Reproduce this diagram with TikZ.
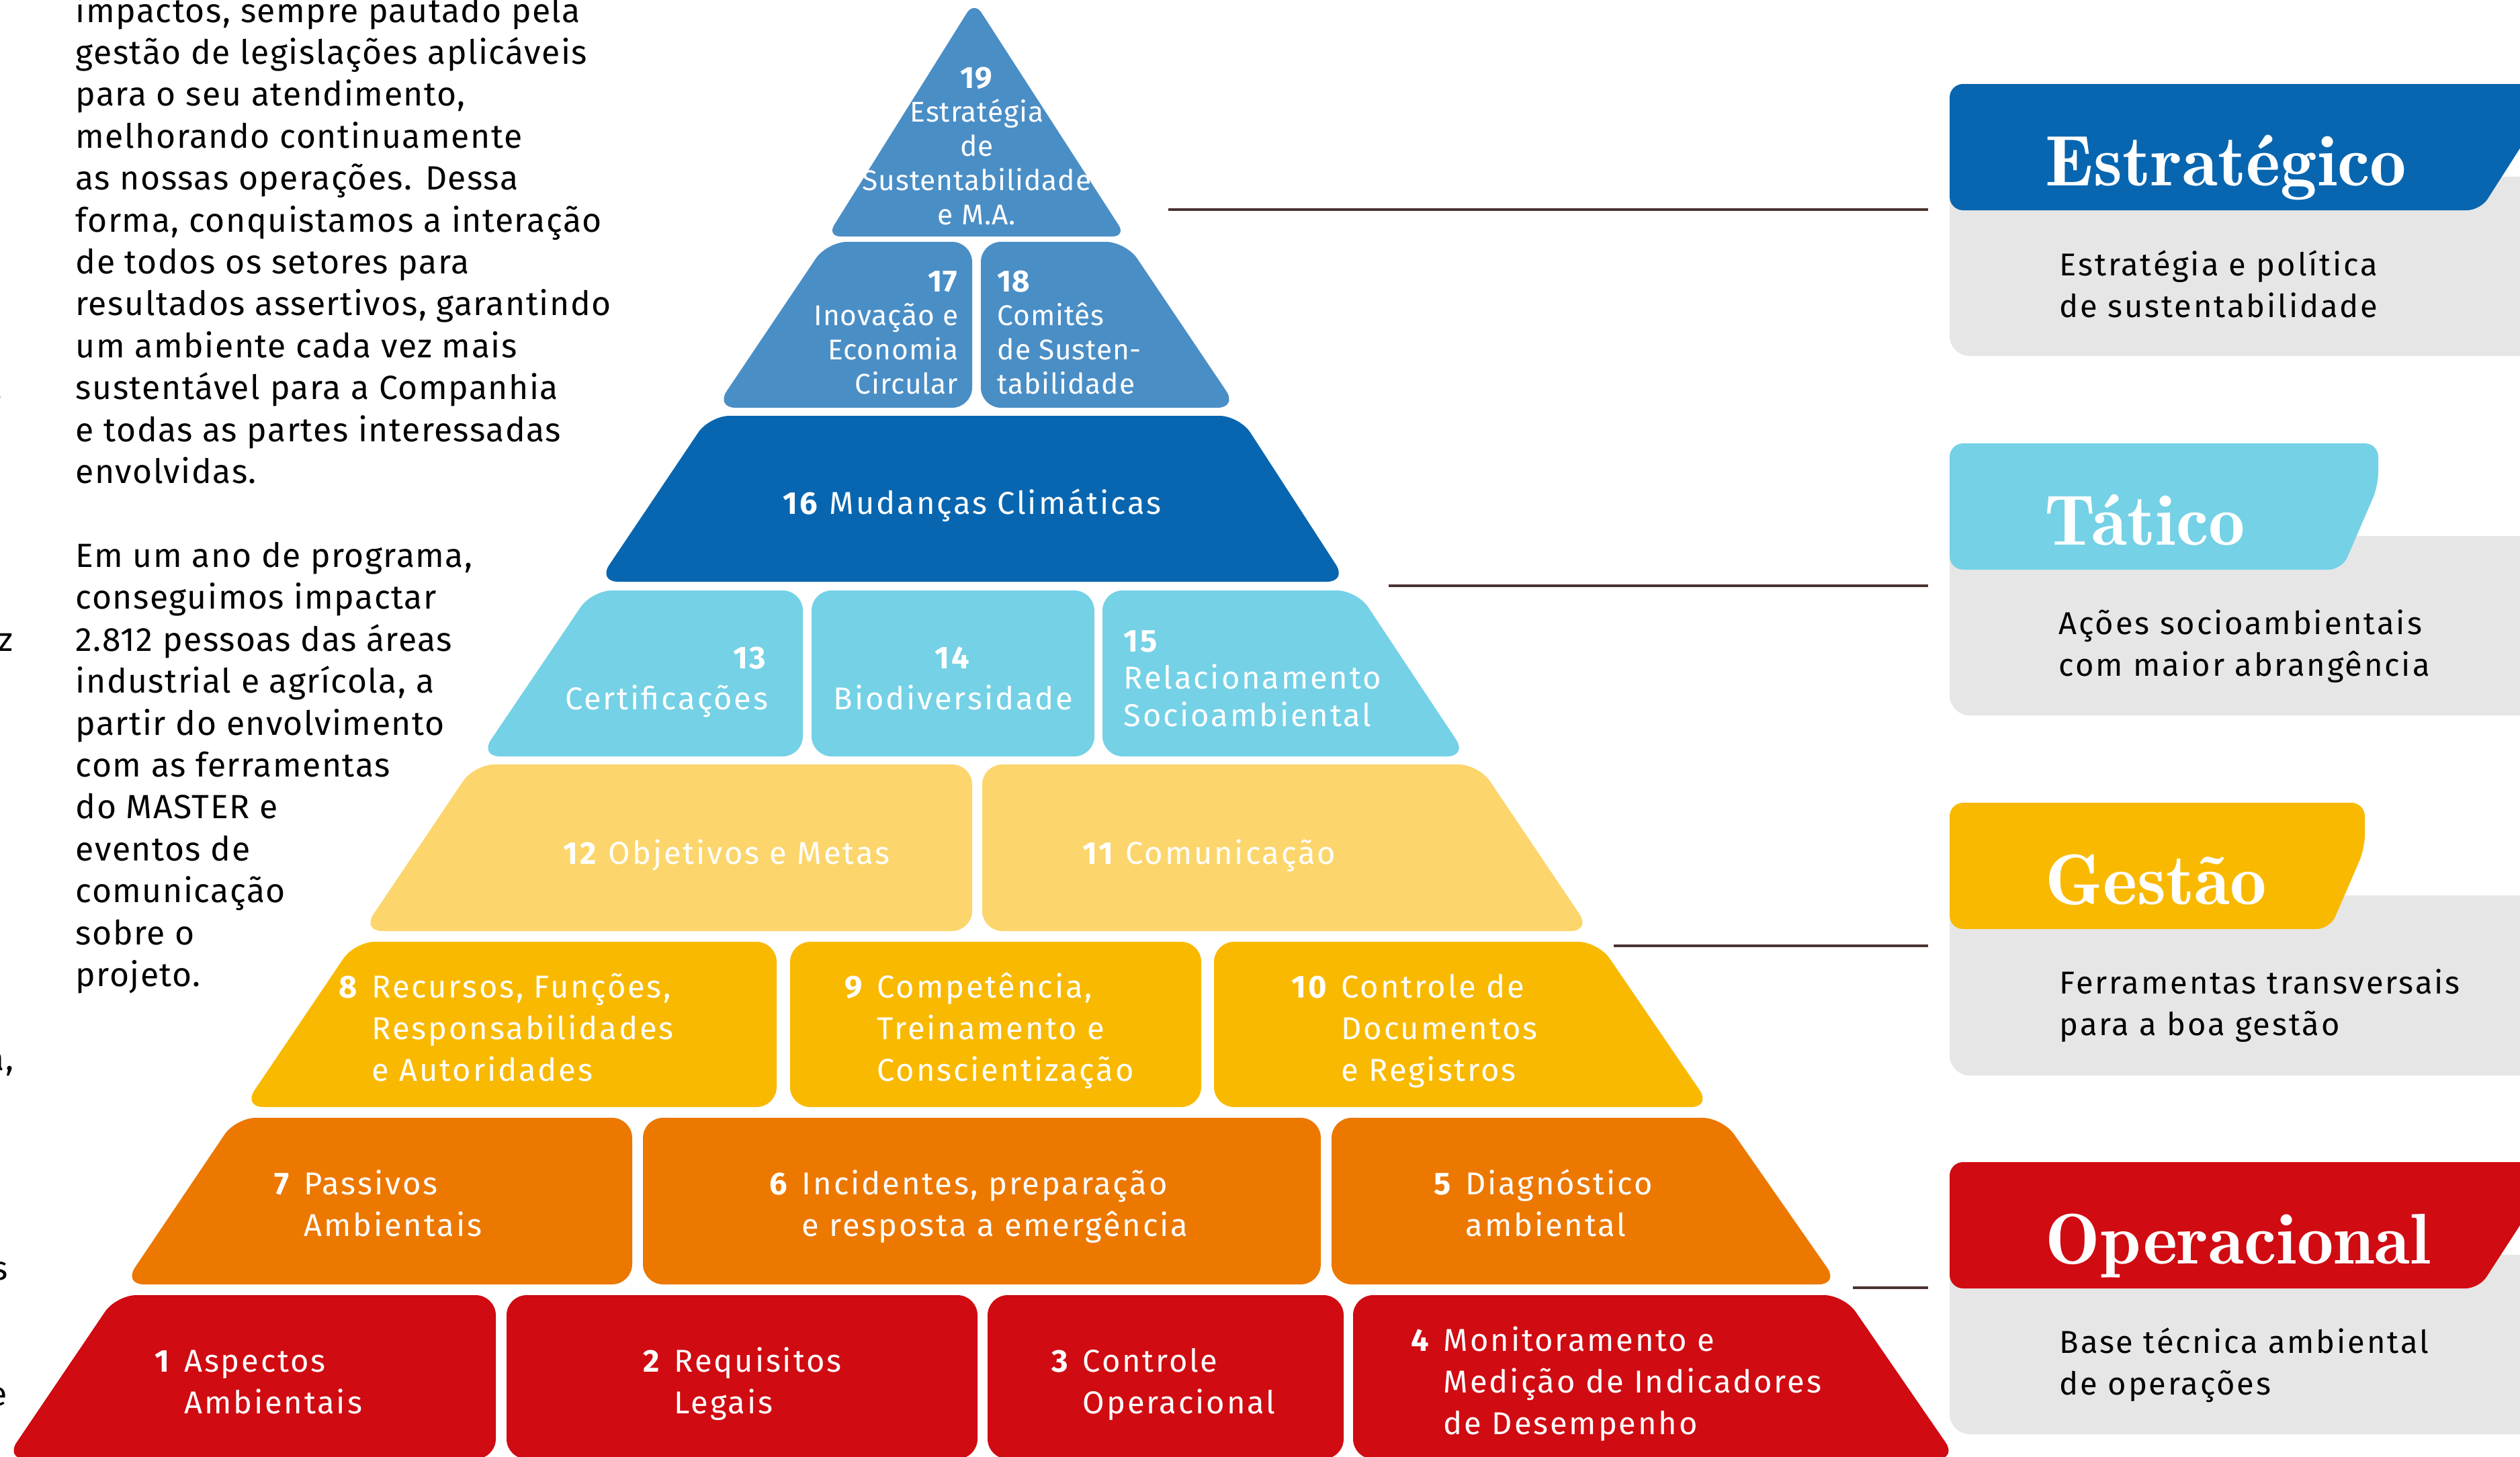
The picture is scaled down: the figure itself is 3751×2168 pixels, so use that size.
\documentclass[tikz,border=0pt]{standalone}
\usepackage{fontspec}
\newfontfamily\bodyfont[LetterSpace=3]{Fira Sans}
\newfontfamily\labfont[LetterSpace=6]{Fira Sans}
\newfontfamily\labsmallfont[LetterSpace=2]{Fira Sans}
\newfontfamily\descfont[LetterSpace=6]{Fira Sans}
\newfontfamily\headfont[FakeStretch=1.02]{lmromandemi10-regular.otf}
\definecolor{cBlueM}{HTML}{4A8EC6}
\definecolor{cBlueD}{HTML}{0866B0}
\definecolor{cCyan}{HTML}{74D1E6}
\definecolor{cYelL}{HTML}{FCD66C}
\definecolor{cAmber}{HTML}{F9B900}
\definecolor{cOrange}{HTML}{EC7800}
\definecolor{cRed}{HTML}{D00B12}
\definecolor{cGrey}{HTML}{E6E6E6}
\definecolor{cLine}{HTML}{4B3331}
\newcommand\numlab[2]{\textbf{#1}\hspace{0.4em}\begin{tabular}[t]{@{}l@{}}#2\end{tabular}}
\tikzset{
  pbox/.style={rounded corners=3mm},
  lab/.style={text=white, inner sep=0pt, font={\labfont\fontsize{13.4}{17.64}\selectfont}},
  labsmall/.style={text=white, inner sep=0pt, font={\labsmallfont\fontsize{12.1}{14.5}\selectfont}},
  labmid/.style={text=white, inner sep=0pt, font={\labfont\fontsize{13.4}{17.36}\selectfont}},
  labtight/.style={text=white, inner sep=0pt, font={\labfont\fontsize{13.4}{15.8}\selectfont}},
  body/.style={text=black, inner sep=0pt, font={\bodyfont\fontsize{14.2}{17.76}\selectfont}},
  head/.style={text=white, inner sep=0pt, anchor=base west, font={\headfont\fontsize{30.4}{36}\selectfont}},
  desc/.style={text=black, inner sep=0pt, anchor=base west, font={\descfont\fontsize{13.4}{17.9}\selectfont}},
  conn/.style={draw=cLine, line width=0.35mm},
}
\begin{document}
\begin{tikzpicture}[x=0.1mm,y=-0.1mm]
\useasboundingbox (0,0) rectangle (3751,2168);
\clip (0,0) rectangle (3751,2168);
\fill[white] (0,0) rectangle (3751,2168);

% ---------- pyramid ----------
\fill[cBlueM, rounded corners=2mm] (1450,2) -- (1676,352) -- (1231,352) -- cycle;
\fill[cBlueM, pbox] (1231,360) -- (1447,360) -- (1447,607) -- (1065,607) -- cycle;
\fill[cBlueM, pbox] (1460,360) -- (1676,360) -- (1842,607) -- (1460,607) -- cycle;
\fill[cBlueD, pbox] (1056,619) -- (1845,619) -- (2005,866) -- (890,866) -- cycle;
\fill[cCyan, pbox] (881,879) -- (1195,879) -- (1195,1126) -- (714,1126) -- cycle;
\fill[cCyan, pbox] (1208,879) -- (1629,879) -- (1629,1126) -- (1208,1126) -- cycle;
\fill[cCyan, pbox] (1641,879) -- (2020,879) -- (2184,1126) -- (1641,1126) -- cycle;
\fill[cYelL, pbox] (706,1138) -- (1447,1138) -- (1447,1386) -- (539,1386) -- cycle;
\fill[cYelL, pbox] (1462,1138) -- (2201,1138) -- (2368,1386) -- (1462,1386) -- cycle;
\fill[cAmber, pbox] (528,1402) -- (1156,1402) -- (1156,1648) -- (362,1648) -- cycle;
\fill[cAmber, pbox] (1176,1402) -- (1788,1402) -- (1788,1648) -- (1176,1648) -- cycle;
\fill[cAmber, pbox] (1807,1402) -- (2379,1402) -- (2547,1648) -- (1807,1648) -- cycle;
\fill[cOrange, pbox] (351,1664) -- (941,1664) -- (941,1912) -- (184,1912) -- cycle;
\fill[cOrange, pbox] (957,1664) -- (1966,1664) -- (1966,1912) -- (957,1912) -- cycle;
\fill[cOrange, pbox] (1982,1664) -- (2564,1664) -- (2737,1912) -- (1982,1912) -- cycle;
\fill[cRed, pbox] (173,1928) -- (738,1928) -- (738,2172) -- (8,2172) -- cycle;
\fill[cRed, pbox] (754,1928) -- (1455,1928) -- (1455,2172) -- (754,2172) -- cycle;
\fill[cRed, pbox] (1470,1928) -- (2000,1928) -- (2000,2172) -- (1470,2172) -- cycle;
\fill[cRed, pbox] (2014,1928) -- (2745,1928) -- (2913,2172) -- (2014,2172) -- cycle;

% ---------- pyramid labels ----------
\node[labsmall, anchor=base] (t19) at (1454,131) {\begin{tabular}[t]{@{}c@{}}\textbf{\fontsize{13}{14.5}\selectfont 19}\\Estratégia\\de\\Sustentabilidade\\e M.A.\end{tabular}};
\node[labsmall, anchor=base east] (t17) at (1427,434) {\begin{tabular}[t]{@{}r@{}}\textbf{\fontsize{13}{14.5}\selectfont 17}\\Inovação e\\Economia\\Circular\end{tabular}};
\node[labsmall, anchor=base west] (t18) at (1484,434) {\begin{tabular}[t]{@{}l@{}}\textbf{\fontsize{13}{14.5}\selectfont 18}\\Comitês\\de Susten-\\tabilidade\end{tabular}};
\node[lab, anchor=base] (t16) at (1447,765) {\textbf{16} Mudanças Climáticas};
\node[labmid, anchor=base east] (t13) at (1144,995) {\begin{tabular}[t]{@{}r@{}}\textbf{13}\\Certificações\end{tabular}};
\node[labmid, anchor=base] (t14) at (1419,995) {\begin{tabular}[t]{@{}c@{}}\textbf{14}\\Biodiversidade\end{tabular}};
\node[labtight, anchor=base west] (t15) at (1672,970) {\begin{tabular}[t]{@{}l@{}}\textbf{15}\\Relacionamento\\Socioambiental\end{tabular}};
\node[lab, anchor=base west] (t12) at (838,1286) {\textbf{12} Objetivos e Metas};
\node[lab, anchor=base west] (t11) at (1611,1286) {\textbf{11} Comunicação};
\node[lab, anchor=base west] (t8) at (504,1485) {\numlab{8}{Recursos, Funções,\\Responsabilidades\\e Autoridades}};
\node[lab, anchor=base west] (t9) at (1257,1485) {\numlab{9}{Competência,\\Treinamento e\\Conscientização}};
\node[lab, anchor=base west] (t10) at (1922,1485) {\numlab{10}{Controle de\\Documentos\\e Registros}};
\node[lab, anchor=base west] (t7) at (408,1778) {\numlab{7}{Passivos\\Ambientais}};
\node[lab, anchor=base west] (t6) at (1145,1778) {\numlab{6}{Incidentes, preparação\\e resposta a emergência}};
\node[lab, anchor=base west] (t5) at (2134,1778) {\numlab{5}{Diagnóstico\\ambiental}};
\node[lab, anchor=base west] (t1) at (230,2042) {\numlab{1}{Aspectos\\Ambientais}};
\node[lab, anchor=base west] (t2) at (957,2042) {\numlab{2}{Requisitos\\Legais}};
\node[lab, anchor=base west] (t3) at (1565,2042) {\numlab{3}{Controle\\Operacional}};
\node[lab, anchor=base west] (t4) at (2100,2011) {\numlab{4}{Monitoramento e\\Medição de Indicadores\\de Desempenho}};

% ---------- legend ----------
\fill[cGrey, rounded corners=3mm] (2902,263) rectangle (3800,530);
\fill[cGrey, rounded corners=3mm] (2902,798) rectangle (3800,1065);
\fill[cGrey, rounded corners=3mm] (2902,1333) rectangle (3800,1601);
\fill[cGrey, rounded corners=3mm] (2902,1868) rectangle (3800,2135);
\fill[cBlueD, rounded corners=2mm] (2902,125) -- (3812,125) -- (3692,313) -- (2902,313) -- cycle;
\fill[cCyan, rounded corners=2mm] (2902,660) -- (3540,660) -- (3540,723) -- (3486,848) -- (2902,848) -- cycle;
\fill[cAmber, rounded corners=2mm] (2902,1195) -- (3520,1195) -- (3520,1263) -- (3468,1383) -- (2902,1383) -- cycle;
\fill[cRed, rounded corners=2mm] (2902,1730) -- (3812,1730) -- (3690,1918) -- (2902,1918) -- cycle;

\node[head] (h1) at (3044,276) {Estratégico};
\node[head] (h2) at (3043,811) {Tático};
\node[head] (h3) at (3044,1346) {Gestão};
\node[head] (h4) at (3044,1881) {Operacional};

\node[desc] (d1) at (3065,410) {\begin{tabular}[t]{@{}l@{}}Estratégia e política\\de sustentabilidade\end{tabular}};
\node[desc] (d2) at (3064,944) {\begin{tabular}[t]{@{}l@{}}Ações socioambientais\\com maior abrangência\end{tabular}};
\node[desc] (d3) at (3065,1479) {\begin{tabular}[t]{@{}l@{}}Ferramentas transversais\\para a boa gestão\end{tabular}};
\node[desc] (d4) at (3065,2014) {\begin{tabular}[t]{@{}l@{}}Base técnica ambiental\\de operações\end{tabular}};

% ---------- connectors ----------
\coordinate (c1a) at (1739,312); \coordinate (c1b) at (2870,312);
\coordinate (c2a) at (2067,872); \coordinate (c2b) at (2870,872);
\coordinate (c3a) at (2402,1408); \coordinate (c3b) at (2870,1408);
\coordinate (c4a) at (2758,1917); \coordinate (c4b) at (2870,1917);
\draw[conn] (c1a) -- (c1b);
\draw[conn] (c2a) -- (c2b);
\draw[conn] (c3a) -- (c3b);
\draw[conn] (c4a) -- (c4b);

% ---------- body text ----------
\node[body, anchor=base west] (bodytext) at (112,33) {\begin{tabular}[t]{@{}l@{}}
impactos, sempre pautado pela\\
gestão de legislações aplicáveis\\
para o seu atendimento,\\
melhorando continuamente\\
as nossas operações. Dessa\\
forma, conquistamos a interação\\
de todos os setores para\\
resultados assertivos, garantindo\\
um ambiente cada vez mais\\
sustentável para a Companhia\\
e todas as partes interessadas\\
envolvidas.\\
\\
Em um ano de programa,\\
conseguimos impactar\\
2.812 pessoas das áreas\\
industrial e agrícola, a\\
partir do envolvimento\\
com as ferramentas\\
do MASTER e\\
eventos de\\
comunicação\\
sobre o\\
projeto.
\end{tabular}};
\node[body, anchor=base east] (f1) at (4,594) {.};
\node[body, anchor=base east] (f2) at (20,969) {z};
\node[body, anchor=base east] (f3) at (21,1593) {a,};
\node[body, anchor=base east] (f4) at (13,1905) {s};
\node[body, anchor=base east] (f5) at (11,2092) {e};
\end{tikzpicture}
\end{document}
